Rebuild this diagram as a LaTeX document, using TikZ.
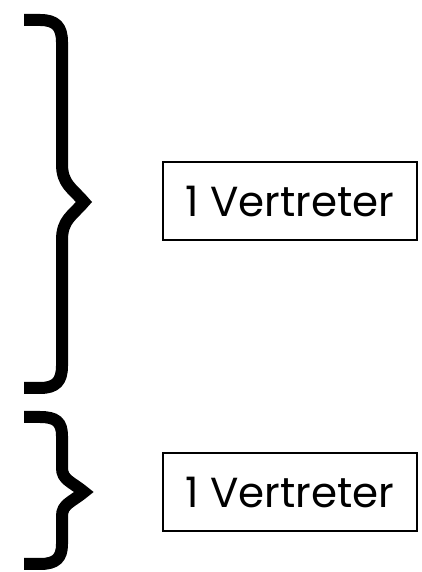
\documentclass[tikz,border=0pt]{standalone}
\usepackage{fontspec}
\setmainfont{Poppins}
\usetikzlibrary{positioning}
\tikzset{repbox/.style={draw, line width=2pt, minimum width=254pt, minimum height=78pt, inner sep=0pt, font=\fontsize{42}{48}\selectfont},
  brace/.style={line width=12pt, line join=miter, miter limit=20}}

\begin{document}
\begin{tikzpicture}[x=1pt,y=1pt]
  \useasboundingbox (0,0) rectangle (421,572);
  % big brace
  \draw[brace] (24,552) -- (40,552) .. controls (56,552) and (62,545) .. (62,530) -- (62,408)
    .. controls (62,388) and (72,384) .. (84,370) .. controls (72,356) and (62,352) .. (62,332)
    -- (62,206) .. controls (62,191) and (56,184) .. (40,184) -- (24,184);
  % small brace
  \draw[brace] (24,155) -- (40,155) .. controls (56,155) and (62,150) .. (62,136) -- (62,104)
    .. controls (62,92) and (72,90) .. (84,80) .. controls (72,70) and (62,68) .. (62,56)
    -- (62,28) .. controls (62,14) and (56,8) .. (40,8) -- (24,8);
  \node[repbox] (rep1) at (290,370.5) {1 Vertreter};
  \node[repbox] (rep2) at (290,79.5) {1 Vertreter};
\end{tikzpicture}
\end{document}
